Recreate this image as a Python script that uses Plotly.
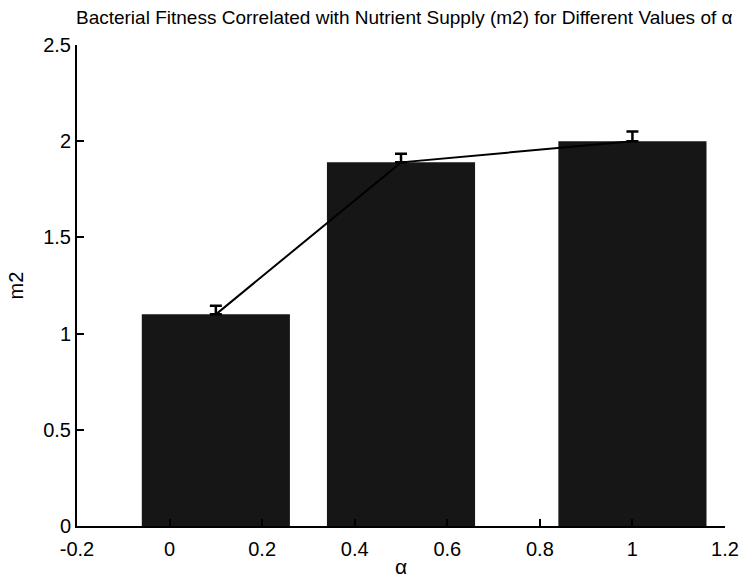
import plotly.graph_objects as go

alpha = [0.1, 0.5, 1.0]
m2 = [1.10, 1.89, 2.00]
m2_err = [0.045, 0.045, 0.05]
x_ticks = [-0.2, 0, 0.2, 0.4, 0.6, 0.8, 1, 1.2]
y_ticks = [0, 0.5, 1, 1.5, 2, 2.5]

FONT = "Liberation Sans, Arial, sans-serif"

fig = go.Figure()
fig.add_trace(go.Bar(
    x=alpha, y=m2, width=0.32,
    marker=dict(color="#161616", line=dict(width=0)),
    showlegend=False,
))
fig.add_trace(go.Scatter(
    x=alpha, y=m2, mode="lines",
    line=dict(color="black", width=2),
    error_y=dict(type="data", symmetric=False, array=m2_err,
                 arrayminus=[0, 0, 0], visible=True,
                 color="black", thickness=2.5, width=6),
    showlegend=False,
))

fig.update_layout(
    width=755, height=579,
    margin=dict(l=77, r=30, t=45, b=53),
    paper_bgcolor="white", plot_bgcolor="white",
    font=dict(family=FONT, color="black", size=20),
    title=dict(
        text="Bacterial Fitness Correlated with Nutrient Supply (m2) for Different Values of α",
        x=0.505, xref="paper", xanchor="center", y=0.97, yanchor="middle",
        font=dict(family=FONT, size=19, color="black"),
    ),
    xaxis=dict(
        range=[-0.2, 1.2], tickvals=x_ticks,
        ticktext=["-0.2", "0", "0.2", "0.4", "0.6", "0.8", "1", "1.2"],
        showgrid=False, zeroline=False, automargin=False,
        showline=True, linecolor="black", linewidth=2,
        ticks="inside", ticklen=7, tickwidth=2, tickcolor="black",
        ticklabelstandoff=4,
        title=dict(text="α", standoff=0, font=dict(size=21)),
        tickfont=dict(size=20),
    ),
    yaxis=dict(
        range=[0, 2.5], tickvals=y_ticks,
        ticktext=["0", "0.5", "1", "1.5", "2", "2.5"],
        showgrid=False, zeroline=False, automargin=False,
        showline=True, linecolor="black", linewidth=2,
        ticks="inside", ticklen=7, tickwidth=2, tickcolor="black",
        title=dict(text="m2", standoff=14, font=dict(size=20)),
        tickfont=dict(size=20),
    ),
)

fig.write_html("out.html",
               config={"displayModeBar": False},
               post_script="document.body.style.margin='0';document.body.style.overflow='hidden';")
